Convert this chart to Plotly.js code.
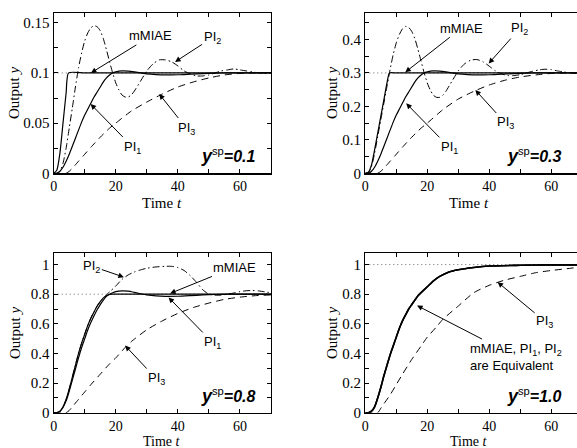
<!DOCTYPE html>
<html>
<head>
<meta charset="utf-8">
<script src="https://cdn.plot.ly/plotly-3.0.1.min.js"></script>
<style>html,body{margin:0;padding:0;background:#fff;}#chart{width:577px;height:448px;}</style>
</head>
<body>
<div id="chart"></div>
<script>
// ---------- DATA ----------
// Panel 1 : y_sp = 0.1
const sp1 = 0.1;
const t_mm1 = [0,1,2,3,4,4.8,10,20,30,40,50,60,70];
const y_mm1 = [0,0.003,0.02,0.05,0.08,0.1,0.1,0.1,0.1,0.1,0.1,0.1,0.1];
const t_pi1_1 = [0,1,2,3,4,5,6,7,8,9,10,11,12,13,14,15,16,17,18,19,20,22,24,26,28,30,33,36,40,44,48,52,56,60,70];
const y_pi1_1 = [0,0,0.002,0.006,0.012,0.019,0.027,0.035,0.043,0.051,0.058,0.064,0.07,0.076,0.081,0.086,0.091,0.095,0.098,0.1,0.101,0.102,0.1018,0.101,0.1,0.099,0.0983,0.098,0.0982,0.0988,0.0994,0.0998,0.1,0.1,0.1];
const t_pi2_1 = [0,1,2,3,4,5,6,7,8,9,10,11,12,13,14,15,16,17,18,19,20,21,22,23,24,25,26,28,30,32,34,36,38,40,42,44,46,48,50,52,54,56,58,60,62,64,66,68,70];
const y_pi2_1 = [0,0,0.002,0.01,0.025,0.045,0.065,0.086,0.105,0.12,0.132,0.14,0.145,0.147,0.146,0.142,0.134,0.123,0.111,0.1,0.09,0.083,0.078,0.076,0.076,0.078,0.082,0.092,0.102,0.109,0.113,0.113,0.111,0.107,0.102,0.099,0.097,0.097,0.098,0.1,0.102,0.103,0.104,0.103,0.102,0.101,0.1,0.0995,0.1];
const t_pi3_1 = [0,4,5,6,8,10,12,15,18,20,25,30,35,40,45,50,55,60,65,70];
const y_pi3_1 = [0,0,0.002,0.005,0.012,0.019,0.026,0.036,0.045,0.05,0.062,0.071,0.079,0.086,0.091,0.095,0.098,0.0995,0.1,0.1];

// Panel 2 : y_sp = 0.3
const sp2 = 0.3;
const t_mm2 = [0,1,2,3,4,5,6,7,7.8,10,20,30,40,50,60,70];
const y_mm2 = [0,0.003,0.025,0.07,0.12,0.17,0.22,0.27,0.3,0.3,0.3,0.3,0.3,0.3,0.3,0.3];
const t_pi1_2 = [0,1,2,3,4,5,6,7,8,9,10,11,12,13,14,15,16,17,18,19,20,22,24,26,28,30,33,36,40,44,48,52,56,60,70];
const y_pi1_2 = [0,0,0.006,0.018,0.036,0.057,0.081,0.105,0.129,0.153,0.174,0.192,0.21,0.228,0.243,0.258,0.273,0.285,0.294,0.3,0.303,0.306,0.3054,0.303,0.3,0.297,0.295,0.294,0.2946,0.2964,0.298,0.2994,0.3,0.3,0.3];
const t_pi2_2 = [0,1,2,3,4,5,6,7,8,9,10,11,12,13,14,15,16,17,18,19,20,21,22,23,24,25,26,28,30,32,34,36,38,40,42,44,46,48,50,52,54,56,58,60,62,64,66,68,70];
const y_pi2_2 = [0,0.002,0.02,0.06,0.11,0.16,0.21,0.26,0.31,0.355,0.39,0.415,0.432,0.439,0.436,0.424,0.402,0.37,0.335,0.3,0.27,0.248,0.233,0.227,0.227,0.233,0.245,0.276,0.306,0.327,0.338,0.34,0.333,0.32,0.306,0.297,0.292,0.292,0.295,0.3,0.305,0.309,0.311,0.31,0.306,0.303,0.3,0.299,0.3];
const t_pi3_2 = [0,4,5,6,8,10,12,15,18,20,25,30,35,40,45,50,55,60,65,70];
const y_pi3_2 = [0,0,0.006,0.015,0.036,0.057,0.078,0.108,0.135,0.15,0.19,0.222,0.245,0.264,0.278,0.288,0.294,0.2985,0.3,0.3];

// Panel 3 : y_sp = 0.8
const sp3 = 0.8;
const t_mm3 = [0,1,2,3,4,5,6,7,8,9,10,11,12,13,14,15,16,17,18,19,20,30,40,50,60,70];
const y_mm3 = [0,0,0.01,0.04,0.09,0.16,0.24,0.32,0.4,0.47,0.53,0.59,0.64,0.68,0.72,0.75,0.775,0.79,0.798,0.8,0.8,0.8,0.8,0.8,0.8,0.8];
const t_pi1_3 = [0,1,2,3,4,5,6,7,8,9,10,11,12,13,14,15,16,17,18,19,20,22,24,26,28,30,33,36,40,44,48,52,56,70];
const y_pi1_3 = [0,0,0.008,0.035,0.08,0.145,0.22,0.295,0.37,0.44,0.5,0.56,0.61,0.655,0.695,0.73,0.76,0.785,0.8,0.81,0.817,0.822,0.82,0.812,0.803,0.795,0.788,0.785,0.786,0.79,0.795,0.798,0.8,0.8];
const t_pi2_3 = [0,1,2,3,4,5,6,7,8,9,10,11,12,13,14,15,16,17,18,20,22,24,26,28,30,33,36,38,40,42,44,46,48,50,52,54,56,58,60,62,64,66,68,70];
const y_pi2_3 = [0,0,0.01,0.04,0.09,0.16,0.24,0.32,0.4,0.47,0.53,0.59,0.64,0.68,0.72,0.75,0.775,0.795,0.815,0.855,0.9,0.93,0.95,0.964,0.975,0.984,0.988,0.988,0.98,0.96,0.925,0.88,0.83,0.8,0.793,0.794,0.8,0.808,0.817,0.823,0.825,0.822,0.816,0.81];
const t_pi3_3 = [0,4,5,6,8,10,12,15,18,20,23,25,30,35,40,45,50,55,60,65,70];
const y_pi3_3 = [0,0,0.015,0.04,0.09,0.14,0.19,0.26,0.33,0.37,0.44,0.48,0.56,0.62,0.67,0.71,0.74,0.765,0.78,0.79,0.795];

// Panel 4 : y_sp = 1.0 (mMIAE, PI1, PI2 coincide)
const sp4 = 1.0;
const t_eq4 = [0,1,2,3,4,5,6,7,8,9,10,11,12,13,14,15,16,17,18,20,22,24,27,30,35,40,50,60,70];
const y_eq4 = [0,0,0.01,0.04,0.1,0.17,0.25,0.32,0.39,0.45,0.51,0.57,0.62,0.66,0.7,0.73,0.76,0.79,0.81,0.85,0.89,0.92,0.95,0.965,0.98,0.99,0.995,0.998,0.998];
const t_pi3_4 = [0,4,5,6,8,10,12,15,18,20,23,25,30,35,40,45,50,55,60,65,70];
const y_pi3_4 = [0,0,0.03,0.06,0.12,0.19,0.26,0.36,0.45,0.51,0.58,0.63,0.72,0.81,0.86,0.895,0.92,0.945,0.96,0.972,0.985];

const spLabels = ['0.1','0.3','0.8','1.0'];
const xTitle = 'Time <i>t</i>';
const yTitle = 'Output <i>y</i>';

// ---------- STYLE / LAYOUT ----------
const BLACK = '#000';
function sp(xa, ya, v){ return {x:[0,70], y:[v,v], xaxis:xa, yaxis:ya, mode:'lines', line:{color:'#666', width:1, dash:'1px,3px'}, hoverinfo:'skip'}; }
function solid(xa, ya, x, y, w){ return {x:x, y:y, xaxis:xa, yaxis:ya, mode:'lines', line:{color:BLACK, width:w||1.2, shape:'spline', smoothing:0.6}, hoverinfo:'skip'}; }
function dashdot(xa, ya, x, y){ return {x:x, y:y, xaxis:xa, yaxis:ya, mode:'lines', line:{color:BLACK, width:1, dash:'7px,3px,1.5px,3px', shape:'spline', smoothing:0.6}, hoverinfo:'skip'}; }
function dashed(xa, ya, x, y){ return {x:x, y:y, xaxis:xa, yaxis:ya, mode:'lines', line:{color:BLACK, width:1, dash:'7px,5px', shape:'spline', smoothing:0.6}, hoverinfo:'skip'}; }

const data = [
  sp('x','y',sp1), dashed('x','y',t_pi3_1,y_pi3_1), dashdot('x','y',t_pi2_1,y_pi2_1), solid('x','y',t_pi1_1,y_pi1_1), solid('x','y',t_mm1,y_mm1),
  sp('x2','y2',sp2), dashed('x2','y2',t_pi3_2,y_pi3_2), dashdot('x2','y2',t_pi2_2,y_pi2_2), solid('x2','y2',t_pi1_2,y_pi1_2), solid('x2','y2',t_mm2,y_mm2),
  sp('x3','y3',sp3), dashed('x3','y3',t_pi3_3,y_pi3_3), dashdot('x3','y3',t_pi2_3,y_pi2_3), solid('x3','y3',t_pi1_3,y_pi1_3), solid('x3','y3',t_mm3,y_mm3),
  sp('x4','y4',sp4), dashed('x4','y4',t_pi3_4,y_pi3_4), dashdot('x4','y4',t_eq4,y_eq4), solid('x4','y4',t_eq4,y_eq4,1.6), solid('x4','y4',t_eq4,y_eq4,1.6)
];

const W = 577, H = 448;
const serif = 'Liberation Serif';
function xax(l, r, range, anchor){
  return {domain:[l/W, r/W], range:range, anchor:anchor, dtick:20, tick0:0,
    ticks:'inside', ticklen:4, tickwidth:1, tickcolor:BLACK,
    minor:{dtick:10, tick0:0, ticks:'inside', ticklen:4, tickcolor:BLACK},
    showline:true, linecolor:BLACK, linewidth:1.2, mirror:'ticks',
    showgrid:false, zeroline:false, fixedrange:true,
    tickfont:{family:serif, size:14, color:BLACK}};
}
function yax(top, bot, range, dt, mdt, anchor, mir){
  return {domain:[1-bot/H, 1-top/H], range:range, anchor:anchor, dtick:dt, tick0:0,
    ticks:'inside', ticklen:4, tickwidth:1, tickcolor:BLACK,
    minor:{dtick:mdt, tick0:0, ticks:'inside', ticklen:4, tickcolor:BLACK},
    showline:true, linecolor:BLACK, linewidth:1.2, mirror:mir,
    showgrid:false, zeroline:false, fixedrange:true,
    tickfont:{family:serif, size:15, color:BLACK}};
}

const sans = 'Liberation Sans';
function lab(xr, yr, x, y, text, ax, ay){
  return {xref:xr, yref:yr, x:x, y:y, text:text, ax:ax, ay:ay, showarrow:true,
    arrowhead:2, arrowsize:1.1, arrowwidth:1, arrowcolor:BLACK, standoff:0,
    font:{family:sans, size:13, color:BLACK}};
}
function spl(xr, yr, txt){
  return {xref:xr+' domain', yref:yr+' domain', x:0.94, y:0.03, xanchor:'right', yanchor:'bottom', showarrow:false,
    text:'<b><i><span style="font-size:18px">y</span></i></b><sup>sp</sup><b><i>='+txt+'</i></b>',
    font:{family:sans, size:16, color:BLACK}};
}
function ttl(px, py, text, rot, fs){
  return {xref:'paper', yref:'paper', x:px/W, y:1-py/H, xanchor:'center', yanchor:'middle', showarrow:false,
    text:text, textangle:rot, borderpad:0, font:{family:serif, size:fs||15, color:BLACK}};
}

const layout = {
  width:W, height:H, margin:{l:0, r:0, t:0, b:0}, paper_bgcolor:'#fff', plot_bgcolor:'#fff', showlegend:false,
  xaxis: xax(53.7, 271, [0,70], 'y'),
  yaxis: yax(12.7, 173.3, [0,0.16], 0.05, 0.025, 'x', 'ticks'),
  xaxis2: xax(365.3, 577, [0,68.3], 'y2'),
  yaxis2: yax(12.7, 173.3, [0,0.48], 0.1, 0.05, 'x2', false),
  xaxis3: xax(53.7, 271, [0,70], 'y3'),
  yaxis3: yax(252.7, 412.7, [0,1.08], 0.2, 0.1, 'x3', 'ticks'),
  xaxis4: xax(365.3, 577, [0,68.3], 'y4'),
  yaxis4: yax(252.7, 412.7, [0,1.08], 0.2, 0.1, 'x4', false),
  annotations: [
    ttl(14, 93, yTitle, -90), ttl(162, 203, xTitle, 0),
    ttl(332, 93, yTitle, -90), ttl(469, 203, xTitle, 0),
    ttl(15, 333, yTitle, -90), ttl(162, 441, xTitle, 0, 14),
    ttl(332, 333, yTitle, -90), ttl(469, 441, xTitle, 0, 14),
    lab('x','y',12,0.1,'mMIAE',60,-37),
    lab('x','y',39.1,0.111,'PI<sub>2</sub>',37,-24),
    lab('x','y',11.9,0.069,'PI<sub>1</sub>',42,43),
    lab('x','y',34,0.079,'PI<sub>3</sub>',27,34),
    spl('x','y',spLabels[0]),
    lab('x2','y2',12.9,0.302,'mMIAE',56,-44),
    lab('x2','y2',39.8,0.328,'PI<sub>2</sub>',31,-35),
    lab('x2','y2',13.2,0.209,'PI<sub>1</sub>',43,44),
    lab('x2','y2',35.5,0.249,'PI<sub>3</sub>',30,33),
    spl('x2','y2',spLabels[1]),
    lab('x3','y3',22.6,0.915,'PI<sub>2</sub>',-32,-11),
    lab('x3','y3',37.5,0.805,'mMIAE',64,-26),
    lab('x3','y3',37,0.778,'PI<sub>1</sub>',44,45),
    lab('x3','y3',23,0.453,'PI<sub>3</sub>',31,33),
    spl('x3','y3',spLabels[2]),
    lab('x4','y4',42.7,0.881,'PI<sub>3</sub>',47,39),
    Object.assign(lab('x4','y4',16.7,0.723,'mMIAE, PI<sub>1</sub>, PI<sub>2</sub><br>are Equivalent',99,51),{align:'left'}),
    spl('x4','y4',spLabels[3])
  ]
};

Plotly.newPlot('chart', data, layout, {staticPlot:true, displayModeBar:false});
</script>
</body>
</html>
